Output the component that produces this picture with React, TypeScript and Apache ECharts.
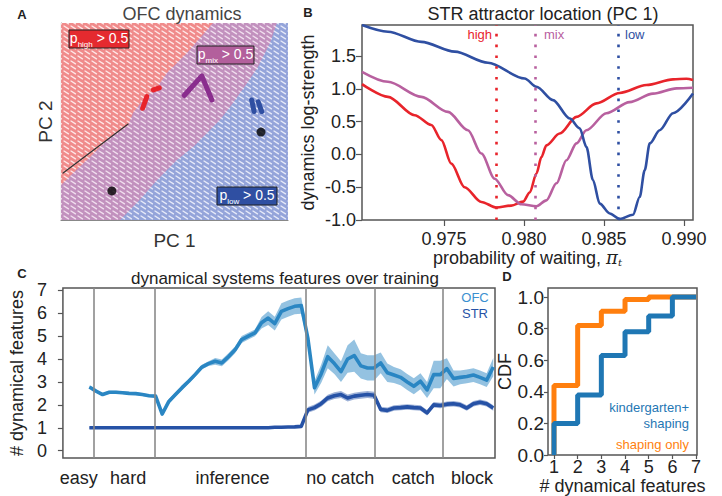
import React, { useEffect, useRef } from 'react';
import * as echarts from 'echarts';

// ---------- Panel A: OFC dynamics (PC space) ----------
const aRangeX = [0.19, 6.75];
const aRangeY = [0.7, 7.33];
const aTicksX = [1, 2, 3, 4, 5, 6];
const aTicksY = [1, 2, 3, 4, 5, 6, 7];
const highRegion = [[0.19, 7.33], [4.58, 7.33], [3.83, 6.32], [3.25, 5.65], [2.97, 5.18], [2.56, 4.74], [2.27, 4.3], [2.13, 3.89], [1.52, 3.39], [1.03, 2.82], [0.54, 2.28], [0.19, 1.88]];
const mixRegion = [[0.19, 7.33], [6.43, 7.33], [6.23, 6.66], [5.88, 5.85], [5.57, 5.31], [5.16, 4.64], [4.79, 4.07], [4.41, 3.63], [4.01, 3.16], [3.54, 2.72], [2.97, 2.05], [2.47, 1.38], [1.9, 0.7], [0.19, 0.7]];
const lowRegion = [[0.19, 0.7], [6.75, 0.7], [6.75, 7.33], [0.19, 7.33]];
const separatrix = [[0.25, 2.28], [2.13, 3.93]];
const fixedPoints = [[1.66, 1.68], [5.97, 3.66]];
const highTrajA = [[2.55, 4.46], [2.67, 4.85]];
const highTrajB = [[2.86, 5.08], [3.03, 5.15]];
const mixTraj = [[3.75, 4.89], [4.26, 5.55], [4.55, 4.74]];
const lowTrajA = [[5.7, 4.74], [5.77, 4.35]];
const lowTrajB = [[5.89, 4.68], [5.99, 4.35]];

// ---------- Panel B: STR attractor location ----------
const bTicksX = [0.975, 0.98, 0.985, 0.99];
const bTicksY = [-1, -0.5, 0, 0.5, 1, 1.5];
const strHigh = [[0.96988, 1.075], [0.9715, 0.88], [0.97317, 0.6], [0.97421, 0.45], [0.97484, 0.22], [0.97546, -0.14], [0.97629, -0.5], [0.97734, -0.725], [0.97828, -0.81], [0.97921, -0.78], [0.97994, -0.72], [0.98036, -0.58], [0.98078, -0.29], [0.98109, -0.04], [0.9814, 0.14], [0.98223, 0.32], [0.98328, 0.575], [0.98453, 0.78], [0.98598, 0.94], [0.98765, 1.06], [0.98931, 1.147], [0.99015, 1.156], [0.99056, 1.136]];
const strMix = [[0.96988, 1.263], [0.9715, 1.11], [0.97359, 0.88], [0.97525, 0.65], [0.9765, 0.37], [0.97734, 0.015], [0.97817, -0.37], [0.979, -0.62], [0.97984, -0.76], [0.98078, -0.79], [0.9814, -0.7], [0.98203, -0.44], [0.98265, -0.087], [0.98328, 0.17], [0.9839, 0.37], [0.98515, 0.63], [0.9866, 0.8], [0.98806, 0.93], [0.98953, 1.01], [0.99056, 1.02]];
const strLow = [[0.96988, 1.977], [0.9715, 1.875], [0.97359, 1.72], [0.97567, 1.57], [0.97775, 1.4], [0.98004, 1.16], [0.98078, 1.034], [0.98181, 0.83], [0.98286, 0.55], [0.98348, 0.4], [0.9839, 0.116], [0.98431, -0.39], [0.98473, -0.75], [0.98536, -0.9], [0.98598, -0.985], [0.98681, -0.92], [0.98723, -0.65], [0.98754, -0.24], [0.98786, 0.17], [0.98848, 0.37], [0.98931, 0.63], [0.99056, 0.93]];
const attractorX = { high: 0.97828, mix: 0.98073, low: 0.98588 };

// ---------- Panel C: features over training ----------
const firstSession = 4;
const ofcMean = [2.78, 2.6, 2.45, 2.55, 2.55, 2.53, 2.5, 2.49, 2.45, 2.4, 2.38,
  1.6, 2.15, 2.45, 2.75, 3.03, 3.33, 3.65, 3.8,
  3.9, 3.83, 4.1, 4.4, 4.85, 5.0, 5.14,
  5.58, 5.79, 5.55, 6.08, 6.2, 6.3, 6.33,
  4.9, 2.75,
  3.35, 4.1, 3.8, 3.45, 4.0, 4.15, 3.7, 3.61, 3.61, 3.83, 3.4, 3.3, 3.2, 3.0, 2.81, 3.03, 2.65, 3.32, 3.32, 3.58, 3.15, 3.2, 3.24, 3.3, 3.2, 3.08, 3.65];
const ofcErr = [0.06, 0.06, 0.06, 0.06, 0.06, 0.06, 0.06, 0.06, 0.06, 0.06, 0.06,
  0.1, 0.1, 0.1, 0.1, 0.1, 0.1, 0.1, 0.1,
  0.15, 0.15, 0.15, 0.15, 0.15, 0.15, 0.15,
  0.25, 0.3, 0.3, 0.35, 0.35, 0.35, 0.35,
  0.25, 0.3,
  0.4, 0.5, 0.45, 0.45, 0.6, 0.7, 0.55, 0.55, 0.55, 0.45, 0.4, 0.35, 0.35, 0.35, 0.35, 0.35, 0.35, 0.6, 0.6, 0.45, 0.35, 0.3, 0.3, 0.3, 0.3, 0.3, 0.4];
const strMean = [1, 1, 1, 1, 1, 1, 1, 1, 1, 1, 1, 1, 1, 1, 1, 1, 1, 1, 1, 1, 1, 1, 1, 1, 1, 1, 1, 1,
  1.02, 1.02, 1.03, 1.04, 1.06,
  1.78, 1.88, 2.05, 2.3, 2.4, 2.45, 2.3, 2.38, 2.42, 2.45, 2.42, 1.8, 1.76, 1.86, 1.88, 1.91, 1.88, 1.86, 1.65, 2.0, 1.97, 2.03, 2.05, 2.0, 1.86, 2.05, 2.11, 2.05, 1.86];
const strErr = [0.04, 0.04, 0.04, 0.04, 0.04, 0.04, 0.04, 0.04, 0.04, 0.04, 0.04, 0.04, 0.04, 0.04, 0.04, 0.04, 0.04, 0.04, 0.04, 0.04, 0.04, 0.04, 0.04, 0.04, 0.04, 0.04, 0.04, 0.04, 0.04, 0.04, 0.04, 0.04, 0.04,
  0.13, 0.13, 0.13, 0.14, 0.15, 0.15, 0.15, 0.15, 0.15, 0.15, 0.15, 0.12, 0.12, 0.12, 0.12, 0.12, 0.12, 0.12, 0.12, 0.12, 0.12, 0.12, 0.12, 0.12, 0.12, 0.12, 0.12, 0.12, 0.12];
const stageNames = ['easy', 'hard', 'inference', 'no catch', 'catch', 'block'];
const stageCenters = [2.4, 9.85, 25.6, 41.9, 52.9, 61.8];
const stageBounds = [4.65, 13.94, 36.73, 47.08, 57.38];
const cTicksY = [0, 1, 2, 3, 4, 5, 6, 7];

// ---------- Panel D: CDF ----------
const featureCounts = [1, 2, 3, 4, 5, 6, 7];
const kgShapingCdf = [0.2, 0.38, 0.63, 0.78, 0.88, 1.0, 1.0];
const shapingOnlyCdf = [0.44, 0.82, 0.91, 0.985, 1.0, 1.0, 1.0];
const dTicksY = [0, 0.2, 0.4, 0.6, 0.8, 1.0];

const FONT = '"Liberation Sans", Arial, Helvetica, sans-serif';
const INK = '#222';
const FRAME = '#555';
const C_HIGH = '#e8242b';
const C_MIX = '#b8609f';
const C_LOW = '#2f4fa2';
const C_OFC = '#2a86c3';
const C_STR = '#2652a6';

function hatch(base: string, stroke: string) {
  const c = document.createElement('canvas');
  c.width = 7; c.height = 5;
  const ctx = c.getContext('2d')!;
  ctx.fillStyle = base; ctx.fillRect(0, 0, 7, 5);
  ctx.strokeStyle = stroke; ctx.lineWidth = 1.4; ctx.lineCap = 'round';
  ctx.beginPath(); ctx.moveTo(1, 1); ctx.lineTo(5.5, 3.8); ctx.stroke();
  return { image: c.toDataURL(), repeat: 'repeat', imageWidth: 7, imageHeight: 5 };
}

function regionSeries(points: number[][], fill: any) {
  return {
    type: 'custom', xAxisIndex: 0, yAxisIndex: 0, data: [0], silent: true, z: 1,
    renderItem: (_p: any, api: any) => ({
      type: 'polygon',
      shape: { points: points.map((pt) => api.coord(pt)) },
      style: { fill },
    }),
  };
}

function bandSeries(xs: number[], mean: number[], err: number[], fill: string) {
  return {
    type: 'custom', xAxisIndex: 2, yAxisIndex: 2, data: [0], silent: true, z: 2,
    renderItem: (_p: any, api: any) => {
      const upper = xs.map((x, i) => api.coord([x, mean[i] + err[i]]));
      const lower = xs.map((x, i) => api.coord([x, mean[i] - err[i]])).reverse();
      return { type: 'polygon', shape: { points: upper.concat(lower) }, style: { fill } };
    },
  };
}

function trajSeries(data: number[][], color: string, width = 5) {
  return {
    type: 'line', xAxisIndex: 0, yAxisIndex: 0, data, symbol: 'none', z: 5,
    lineStyle: { color, width, cap: 'round', join: 'round' },
  };
}

function txt(text: string, x: number, y: number, size: number, extra: any = {}) {
  return {
    type: 'text', x, y, z: 50,
    style: { text, fontSize: size, fontFamily: FONT, fill: INK, align: 'center', verticalAlign: 'middle', ...extra },
  };
}

function boxLabel(x: number, y: number, w: number, h: number, fill: string, sub: string) {
  const rt = { fill: '#fff', fontFamily: FONT, lineHeight: 16, verticalAlign: 'bottom' };
  return [
    { type: 'rect', z: 40, shape: { x, y, width: w, height: h }, style: { fill, stroke: '#222', lineWidth: 1 } },
    {
      type: 'text', z: 41, x: x + w / 2, y: y + h / 2 + 1,
      style: {
        text: `{p|p}{s|${sub}}{t| > 0.5}`, align: 'center', verticalAlign: 'middle', fontFamily: FONT, fill: '#fff',
        rich: {
          p: { ...rt, fontSize: 14, padding: [0, 0, 3, 0] },
          s: { ...rt, fontSize: 8 },
          t: { ...rt, fontSize: 14, padding: [0, 0, 3, 0] },
        },
      },
    },
  ];
}

function buildOption(): any {
  const sessions = ofcMean.map((_, i) => firstSession + i);
  const stepData = (cdf: number[]) => [[featureCounts[0], 0], ...featureCounts.map((c, i) => [c, cdf[i]])];

  const tickStyle = { lineStyle: { color: FRAME, width: 1.2 } };
  const fmt1 = (v: number) => v.toFixed(1);

  return {
    animation: false,
    textStyle: { fontFamily: FONT, color: INK },
    grid: [
      { left: 61, top: 23, width: 227, height: 197, show: false },
      { left: 362, top: 25, width: 331, height: 195, show: true, borderColor: FRAME, borderWidth: 1.5 },
      { left: 60, top: 288, width: 435, height: 170, show: true, borderColor: FRAME, borderWidth: 1.5 },
      { left: 548, top: 288, width: 149, height: 167, show: true, borderColor: FRAME, borderWidth: 1.5 },
    ],
    xAxis: [
      {
        gridIndex: 0, type: 'value', min: aRangeX[0], max: aRangeX[1],
        name: 'PC 1', nameLocation: 'middle', nameGap: 11, nameTextStyle: { fontSize: 19, color: '#333' },
        axisLine: { show: true, onZero: false, lineStyle: { color: '#888', width: 1.2 } },
        axisTick: { show: true, inside: true, length: 4, customValues: aTicksX, lineStyle: { color: '#777' } },
        axisLabel: { show: false }, splitLine: { show: false },
      },
      {
        gridIndex: 1, type: 'value', min: 0.96988, max: 0.99056,
        name: '{a|probability of waiting, }{b|π}{c|t}', nameLocation: 'middle', nameGap: 26,
        nameTextStyle: {
          fontSize: 18, color: INK,
          rich: {
            a: { fontSize: 18, color: INK, fontFamily: FONT },
            b: { fontSize: 18, color: INK, fontFamily: '"DejaVu Serif", serif', fontStyle: 'italic' },
            c: { fontSize: 10, color: INK, fontFamily: '"DejaVu Serif", serif', fontStyle: 'italic', verticalAlign: 'bottom', padding: [10, 0, 0, 0] },
          },
        },
        axisLine: { show: false, onZero: false },
        axisTick: { show: true, length: 6, customValues: bTicksX, ...tickStyle },
        axisLabel: { customValues: bTicksX, formatter: (v: number) => v.toFixed(3), fontSize: 18, color: INK, margin: 10 },
        splitLine: { show: false },
      },
      {
        gridIndex: 2, type: 'value', min: 0, max: 65.26,
        axisLine: { show: false, onZero: false }, axisTick: { show: false },
        axisLabel: {
          customValues: stageCenters, fontSize: 18, color: INK, margin: 11,
          formatter: (v: number) => {
            const i = stageCenters.findIndex((c) => Math.abs(c - v) < 0.01);
            return i >= 0 ? stageNames[i] : '';
          },
        },
        splitLine: { show: false },
      },
      {
        gridIndex: 3, type: 'value', min: 0.747, max: 7.04,
        name: '# dynamical features', nameLocation: 'middle', nameGap: 21, nameTextStyle: { fontSize: 18, color: INK },
        axisLine: { show: false, onZero: false },
        axisTick: { show: true, length: 4, customValues: featureCounts, ...tickStyle },
        axisLabel: { customValues: featureCounts, fontSize: 18, color: INK, margin: 3 },
        splitLine: { show: false },
      },
    ],
    yAxis: [
      {
        gridIndex: 0, type: 'value', min: aRangeY[0], max: aRangeY[1],
        name: 'PC 2', nameLocation: 'middle', nameGap: 6, nameTextStyle: { fontSize: 19, color: '#333' },
        axisLine: { show: true, onZero: false, lineStyle: { color: '#888', width: 1.2 } },
        axisTick: { show: true, inside: true, length: 4, customValues: aTicksY, lineStyle: { color: '#777' } },
        axisLabel: { show: false }, splitLine: { show: false },
      },
      {
        gridIndex: 1, type: 'value', min: -1, max: 1.977,
        name: 'dynamics log-strength', nameLocation: 'middle', nameGap: 45, nameTextStyle: { fontSize: 18, color: INK },
        axisLine: { show: false, onZero: false },
        axisTick: { show: true, length: 6, customValues: bTicksY, ...tickStyle },
        axisLabel: { customValues: bTicksY, formatter: fmt1, fontSize: 18, color: INK, margin: 6 },
        splitLine: { show: false },
      },
      {
        gridIndex: 2, type: 'value', min: -0.32, max: 7.1,
        name: '# dynamical features', nameLocation: 'middle', nameGap: 30, nameTextStyle: { fontSize: 18, color: INK },
        axisLine: { show: false, onZero: false },
        axisTick: { show: true, length: 5, customValues: cTicksY, ...tickStyle },
        axisLabel: { customValues: cTicksY, fontSize: 18, color: INK, margin: 16 },
        splitLine: { show: false },
      },
      {
        gridIndex: 3, type: 'value', min: 0, max: 1.057,
        name: 'CDF', nameLocation: 'middle', nameGap: 34, nameTextStyle: { fontSize: 18, color: INK },
        axisLine: { show: false, onZero: false },
        axisTick: { show: true, length: 4, customValues: dTicksY, ...tickStyle },
        axisLabel: { customValues: dTicksY, formatter: fmt1, fontSize: 19, color: INK, margin: 4 },
        splitLine: { show: false },
      },
    ],
    series: [
      // Panel A
      regionSeries(lowRegion, hatch('#94a4da', 'rgba(240,242,252,0.9)')),
      regionSeries(mixRegion, hatch('#c291be', 'rgba(246,232,244,0.9)')),
      regionSeries(highRegion, hatch('#f08b8b', 'rgba(255,236,236,0.95)')),
      trajSeries(separatrix, '#333', 1.2),
      trajSeries(highTrajA, C_HIGH),
      trajSeries(highTrajB, C_HIGH),
      trajSeries(mixTraj, '#8a2d8e'),
      trajSeries(lowTrajA, C_LOW),
      trajSeries(lowTrajB, C_LOW),
      { type: 'scatter', xAxisIndex: 0, yAxisIndex: 0, data: fixedPoints, symbolSize: 9, itemStyle: { color: '#000' }, z: 6 },
      // Panel B
      ...[
        { name: 'high', data: strHigh, color: C_HIGH, x: attractorX.high },
        { name: 'mix', data: strMix, color: C_MIX, x: attractorX.mix },
        { name: 'low', data: strLow, color: C_LOW, x: attractorX.low },
      ].map((s) => ({
        type: 'line', name: s.name, xAxisIndex: 1, yAxisIndex: 1, data: s.data, symbol: 'none',
        smooth: 0.3, smoothMonotone: 'x',
        lineStyle: { color: s.color, width: 2.6 },
        markLine: {
          silent: true, symbol: ['none', 'none'], label: { show: false }, precision: 6,
          lineStyle: { color: s.color, width: 2.6, type: [2.6, 8.2], cap: 'butt' },
          data: [{ xAxis: s.x }],
        },
      })),
      // Panel C
      bandSeries(sessions, ofcMean, ofcErr, 'rgba(42,134,195,0.5)'),
      bandSeries(sessions, strMean, strErr, 'rgba(38,82,166,0.45)'),
      {
        type: 'line', name: 'OFC', xAxisIndex: 2, yAxisIndex: 2, symbol: 'none', z: 3,
        data: ofcMean.map((m, i) => [sessions[i], m]),
        lineStyle: { color: C_OFC, width: 3.6, join: 'round' },
        markLine: {
          silent: true, symbol: ['none', 'none'], label: { show: false }, precision: 4,
          lineStyle: { color: '#8a8a8a', width: 1.6, type: 'solid' },
          data: stageBounds.map((b) => ({ xAxis: b })),
        },
      },
      {
        type: 'line', name: 'STR', xAxisIndex: 2, yAxisIndex: 2, symbol: 'none', z: 3,
        data: strMean.map((m, i) => [sessions[i], m]),
        lineStyle: { color: C_STR, width: 3.6, join: 'round' },
      },
      // Panel D
      {
        type: 'line', name: 'shaping only', xAxisIndex: 3, yAxisIndex: 3, step: 'end', symbol: 'none',
        data: stepData(shapingOnlyCdf), lineStyle: { color: '#ff7f0e', width: 5 }, z: 2,
      },
      {
        type: 'line', name: 'kindergarten+ shaping', xAxisIndex: 3, yAxisIndex: 3, step: 'end', symbol: 'none',
        data: stepData(kgShapingCdf), lineStyle: { color: '#1f77b4', width: 5 }, z: 3,
      },
    ],
    graphic: [
      txt('A', 22, 14, 13, { fontWeight: 'bold' }),
      txt('B', 308, 12, 13, { fontWeight: 'bold' }),
      txt('C', 22, 273, 13, { fontWeight: 'bold' }),
      txt('D', 507, 276, 13, { fontWeight: 'bold' }),
      txt('OFC dynamics', 182, 14, 18, { fill: '#444' }),
      txt('STR attractor location (PC 1)', 543, 14, 18),
      txt('dynamical systems features over training', 285, 278, 17),
      ...boxLabel(69, 30, 60, 18, '#e52a2f', 'high'),
      ...boxLabel(197, 46, 57, 18, '#b35f9c', 'mix'),
      ...boxLabel(217, 187, 60, 18, '#2f4fa2', 'low'),
      txt('high', 492, 34, 13, { fill: C_HIGH, align: 'right' }),
      txt('mix', 544, 34, 13, { fill: C_MIX, align: 'left' }),
      txt('low', 625, 34, 13, { fill: C_LOW, align: 'left' }),
      txt('OFC', 475, 297, 13, { fill: '#3a90d0' }),
      txt('STR', 475, 313, 13, { fill: C_STR }),
      txt('kindergarten+', 689, 407, 13, { fill: '#1f77b4', align: 'right' }),
      txt('shaping', 689, 423, 13, { fill: '#1f77b4', align: 'right' }),
      txt('shaping only', 689, 444, 13, { fill: '#ff7f0e', align: 'right' }),
    ],
  };
}

export default function App() {
  const ref = useRef<HTMLDivElement>(null);
  useEffect(() => {
    const chart = echarts.init(ref.current!, null, { renderer: 'svg' });
    chart.setOption(buildOption());
    return () => chart.dispose();
  }, []);
  return <div ref={ref} style={{ position: 'absolute', left: 0, top: 0, width: 722, height: 496, background: '#fff' }} />;
}
